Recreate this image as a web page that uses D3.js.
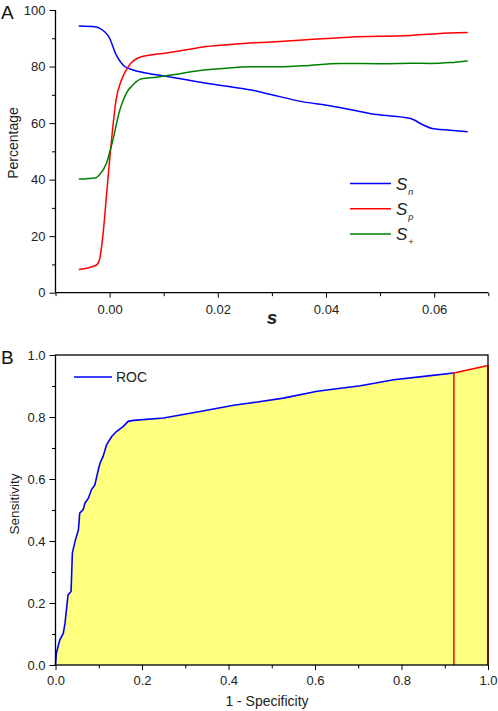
<!DOCTYPE html>
<html>
<head>
<meta charset="utf-8">
<script src="https://cdn.jsdelivr.net/npm/d3@7/dist/d3.min.js"></script>
<style>
body { margin: 0; background: #fff; }
svg { display: block; font-family: "Liberation Sans", Arial, sans-serif; }
</style>
</head>
<body>
<svg id="chart" width="498" height="711"></svg>
<script>
// ---------- Panel A data ----------
const snS = [-0.0057, -0.0025, -0.0019, 0, 0.0012, 0.0028, 0.0043, 0.0062, 0.0099, 0.0142, 0.0179, 0.0228, 0.0259, 0.0300, 0.0358, 0.0401, 0.0444, 0.0494, 0.0556, 0.0580, 0.0596, 0.0630, 0.0662];
const snV = [94.3, 94.0, 93.6, 90.0, 84.2, 80.0, 78.8, 77.9, 76.7, 75.3, 74.1, 72.7, 71.8, 70.0, 67.5, 66.3, 64.8, 63.0, 61.6, 59.3, 58.1, 57.5, 56.9];

const spS = [-0.0057, -0.0025, -0.0019, -0.0012, -0.0006, 0, 0.0006, 0.0012, 0.0022, 0.0037, 0.0056, 0.0105, 0.0142, 0.0179, 0.0228, 0.0259, 0.0300, 0.0358, 0.0444, 0.0556, 0.0605, 0.0662];
const spV = [8.2, 9.7, 11.5, 20.9, 33.9, 46.9, 58.7, 68.2, 75.3, 80.6, 83.3, 84.8, 85.9, 87.1, 87.9, 88.3, 88.7, 89.4, 90.4, 91.0, 91.6, 92.0];

const spluS = [-0.0057, -0.0025, -0.0019, -0.0006, 0.0006, 0.0019, 0.0031, 0.0043, 0.0059, 0.0086, 0.0117, 0.0167, 0.0216, 0.0259, 0.0300, 0.0358, 0.0426, 0.0506, 0.0556, 0.0593, 0.0630, 0.0662];
const spluV = [40.2, 40.7, 41.6, 45.7, 54.0, 64.7, 70.6, 73.5, 75.7, 76.2, 77.1, 78.6, 79.4, 79.9, 79.9, 80.3, 81.1, 81.0, 81.2, 81.1, 81.4, 82.0];

const aXMajor = [0, 0.02, 0.04, 0.06];
const aXMinor = [-0.01, 0.01, 0.03, 0.05, 0.07];
const aYMajor = [0, 20, 40, 60, 80, 100];
const aYMinor = [10, 30, 50, 70, 90];
const aLegend = [["n", "#0000ff"], ["p", "#ff0000"], ["+", "#008000"]];

// ---------- Panel B data ----------
const rocX = [0, 0.002, 0.010, 0.018, 0.022, 0.029, 0.036, 0.039, 0.045, 0.053, 0.056, 0.064, 0.068, 0.076, 0.083, 0.091, 0.099, 0.103, 0.110, 0.118, 0.130, 0.141, 0.157, 0.168, 0.180, 0.250, 0.334, 0.412, 0.450, 0.527, 0.605, 0.705, 0.782, 0.852, 0.921];
const rocY = [0, 0.038, 0.081, 0.102, 0.135, 0.226, 0.237, 0.361, 0.398, 0.436, 0.490, 0.501, 0.522, 0.538, 0.565, 0.581, 0.630, 0.651, 0.673, 0.710, 0.737, 0.753, 0.770, 0.786, 0.789, 0.797, 0.818, 0.838, 0.845, 0.861, 0.883, 0.901, 0.920, 0.931, 0.942];
const tailX = [0.921, 1.0];
const tailY = [0.942, 0.966];
const bMajor = [0, 0.2, 0.4, 0.6, 0.8, 1.0];
const bMinor = [0.1, 0.3, 0.5, 0.7, 0.9];

const svg = d3.select("#chart");
const AXC = "#000";

function styleAxis(g, fs) {
  g.select(".domain").remove();
  g.selectAll("line").attr("stroke", AXC).attr("stroke-width", 1);
  g.selectAll("text").attr("fill", "#222").style("font-size", fs + "px").style("font-family", "Liberation Sans, Arial, sans-serif");
}

// ================= Panel A =================
const ax = d3.scaleLinear().domain([-0.01, 0.07]).range([55.5, 488.3]);
const ay = d3.scaleLinear().domain([0, 100]).range([292.7, 10]);

const gA = svg.append("g");
gA.append("g").attr("transform", "translate(0,292.7)")
  .call(d3.axisBottom(ax).tickValues(aXMajor).tickFormat(d3.format(".2f")).tickSize(5).tickPadding(7))
  .call(g => styleAxis(g, 13));
gA.append("g").attr("transform", "translate(0,292.7)")
  .call(d3.axisBottom(ax).tickValues(aXMinor).tickFormat("").tickSize(3.5))
  .call(g => styleAxis(g, 13));
gA.append("g").attr("transform", "translate(55.5,0)")
  .call(d3.axisLeft(ay).tickValues(aYMajor).tickSize(6).tickPadding(4))
  .call(g => styleAxis(g, 13));
gA.append("g").attr("transform", "translate(55.5,0)")
  .call(d3.axisLeft(ay).tickValues(aYMinor).tickFormat("").tickSize(3.5))
  .call(g => styleAxis(g, 13));
// axis lines
gA.append("line").attr("x1", ax(-0.01)).attr("x2", ax(0.07)).attr("y1", ay(0)).attr("y2", ay(0)).attr("stroke", AXC).attr("stroke-width", 1.3);
gA.append("line").attr("x1", ax(-0.01)).attr("x2", ax(-0.01)).attr("y1", ay(0)).attr("y2", ay(100)).attr("stroke", AXC).attr("stroke-width", 1.3);

const lineA = d3.line().x(d => ax(d[0])).y(d => ay(d[1])).curve(d3.curveMonotoneX);
const seriesA = [
  [d3.zip(snS, snV), "#0000ff"],
  [d3.zip(spS, spV), "#ff0000"],
  [d3.zip(spluS, spluV), "#008000"]
];
seriesA.forEach(([pts, c]) => {
  gA.append("path").attr("d", lineA(pts)).attr("fill", "none").attr("stroke", c).attr("stroke-width", 1.5);
});

// Legend A
aLegend.forEach(([sub, c], i) => {
  const y = 183.5 + i * 25.3;
  gA.append("line").attr("x1", 350).attr("x2", 391).attr("y1", y).attr("y2", y).attr("stroke", c).attr("stroke-width", 1.5);
  const t = gA.append("text").attr("x", 396).attr("y", y + 6).attr("fill", "#222")
    .style("font-size", "17px").style("font-style", "italic");
  t.append("tspan").text("S");
  t.append("tspan").attr("dy", 5).attr("dx", 1).style("font-size", "9px").text(sub);
});

gA.append("text").attr("transform", "translate(18,143) rotate(-90)").attr("text-anchor", "middle")
  .attr("fill", "#222").style("font-size", "14px").text("Percentage");
gA.append("text").attr("x", 272).attr("y", 324).attr("text-anchor", "middle")
  .attr("fill", "#222").style("font-size", "19px").style("font-style", "italic").style("font-weight", "bold").text("s");
gA.append("text").attr("x", 1).attr("y", 19).attr("fill", "#111").style("font-size", "19px").text("A");

// ================= Panel B =================
const bx = d3.scaleLinear().domain([0, 1]).range([55.5, 488]);
const by = d3.scaleLinear().domain([0, 1]).range([665, 355]);

const gB = svg.append("g");
const rocPts = d3.zip(rocX, rocY);
const tailPts = d3.zip(tailX, tailY);
const allPts = rocPts.concat(tailPts.slice(1));
const area = d3.area().x(d => bx(d[0])).y0(by(0)).y1(d => by(d[1]));
gB.append("path").attr("d", area(allPts)).attr("fill", "#ffff80").attr("stroke", "none");

const lineB = d3.line().x(d => bx(d[0])).y(d => by(d[1]));
gB.append("path").attr("d", lineB(rocPts)).attr("fill", "none").attr("stroke", "#0000ff").attr("stroke-width", 1.6);
gB.append("path").attr("d", lineB(tailPts)).attr("fill", "none").attr("stroke", "#ff0000").attr("stroke-width", 1.5);
tailPts.forEach(p => {
  gB.append("line").attr("x1", bx(p[0])).attr("x2", bx(p[0])).attr("y1", by(0)).attr("y2", by(p[1]))
    .attr("stroke", "#ff0000").attr("stroke-width", 1.5);
});

gB.append("g").attr("transform", "translate(0,665)")
  .call(d3.axisBottom(bx).tickValues(bMajor).tickFormat(d3.format(".1f")).tickSize(5).tickPadding(6))
  .call(g => styleAxis(g, 13));
gB.append("g").attr("transform", "translate(0,665)")
  .call(d3.axisBottom(bx).tickValues(bMinor).tickFormat("").tickSize(3.5))
  .call(g => styleAxis(g, 13));
gB.append("g").attr("transform", "translate(55.5,0)")
  .call(d3.axisLeft(by).tickValues(bMajor).tickFormat(d3.format(".1f")).tickSize(6).tickPadding(4))
  .call(g => styleAxis(g, 13));
gB.append("g").attr("transform", "translate(55.5,0)")
  .call(d3.axisLeft(by).tickValues(bMinor).tickFormat("").tickSize(3.5))
  .call(g => styleAxis(g, 13));
gB.append("rect").attr("x", bx(0)).attr("y", by(1)).attr("width", bx(1) - bx(0)).attr("height", by(0) - by(1))
  .attr("fill", "none").attr("stroke", AXC).attr("stroke-width", 1.3);

// Legend B
gB.append("line").attr("x1", 74).attr("x2", 112).attr("y1", 377).attr("y2", 377).attr("stroke", "#0000ff").attr("stroke-width", 1.6);
gB.append("text").attr("x", 116).attr("y", 382).attr("fill", "#222").style("font-size", "14px").text("ROC");

gB.append("text").attr("transform", "translate(19,504) rotate(-90)").attr("text-anchor", "middle")
  .attr("fill", "#222").style("font-size", "13.5px").text("Sensitivity");
gB.append("text").attr("x", 267).attr("y", 706).attr("text-anchor", "middle")
  .attr("fill", "#222").style("font-size", "14px").text("1 - Specificity");
gB.append("text").attr("x", 1).attr("y", 364).attr("fill", "#111").style("font-size", "19px").text("B");
</script>
</body>
</html>
